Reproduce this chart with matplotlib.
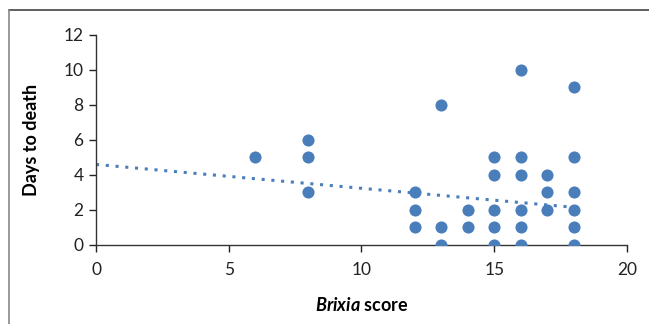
import matplotlib
matplotlib.use("Agg")
import matplotlib.pyplot as plt
from matplotlib.lines import Line2D

# Brixia score vs days to death
brixia = [6, 8, 8, 8, 12, 12, 12, 13, 13, 13, 14, 14,
          15, 15, 15, 15, 15, 16, 16, 16, 16, 16, 16,
          17, 17, 17, 18, 18, 18, 18, 18, 18]
days = [5, 6, 5, 3, 3, 2, 1, 8, 1, 0, 2, 1,
        5, 4, 2, 1, 0, 10, 5, 4, 2, 1, 0,
        4, 3, 2, 9, 5, 3, 2, 1, 0]

# linear trendline endpoints
trend_x = [0, 18]
trend_y = [4.6, 2.15]

x_ticks = [0, 5, 10, 15, 20]
y_ticks = [0, 2, 4, 6, 8, 10, 12]

plt.rcParams['font.family'] = ['Lato', 'DejaVu Sans']
plt.rcParams['mathtext.fontset'] = 'custom'
plt.rcParams['mathtext.it'] = 'Lato:italic:bold'
plt.rcParams['mathtext.rm'] = 'Lato:bold'
blue = "#4a7ebb"

fig = plt.figure(figsize=(6.49, 3.24), dpi=100)
ax = fig.add_axes([0.148, 0.244, 0.818, 0.648])

ax.scatter(brixia, days, s=76, color=blue, zorder=3, linewidths=0)
ax.plot(trend_x, trend_y, linestyle=(0, (1, 2.2)), color=blue, linewidth=2.2, zorder=2)

ax.set_xlim(0, 20)
ax.set_ylim(0, 12)
ax.set_xticks(x_ticks)
ax.set_yticks(y_ticks)
ax.tick_params(axis='both', labelsize=12.5, colors="#222222", length=5, width=1)
ax.tick_params(axis='x', pad=7)
ax.tick_params(axis='y', pad=4)

for side in ["top", "right"]:
    ax.spines[side].set_visible(False)
for side in ["left", "bottom"]:
    ax.spines[side].set_color("#333333")
    ax.spines[side].set_linewidth(1)
    ax.spines[side].set_clip_on(False)

ax.set_xlabel(r"$\it{Brixia}$ score", fontsize=13, fontweight="bold", labelpad=13)
ax.set_ylabel("Days to death", fontsize=13, fontweight="bold", labelpad=17)

# partial outer frame (top and left edges)
fig.add_artist(Line2D([9 / 649, 1], [1 - 10 / 324, 1 - 10 / 324], color="#444444", linewidth=1.2))
fig.add_artist(Line2D([9 / 649, 9 / 649], [0, 1 - 10 / 324], color="#888888", linewidth=1.2))

fig.savefig("out.png", dpi=100)
